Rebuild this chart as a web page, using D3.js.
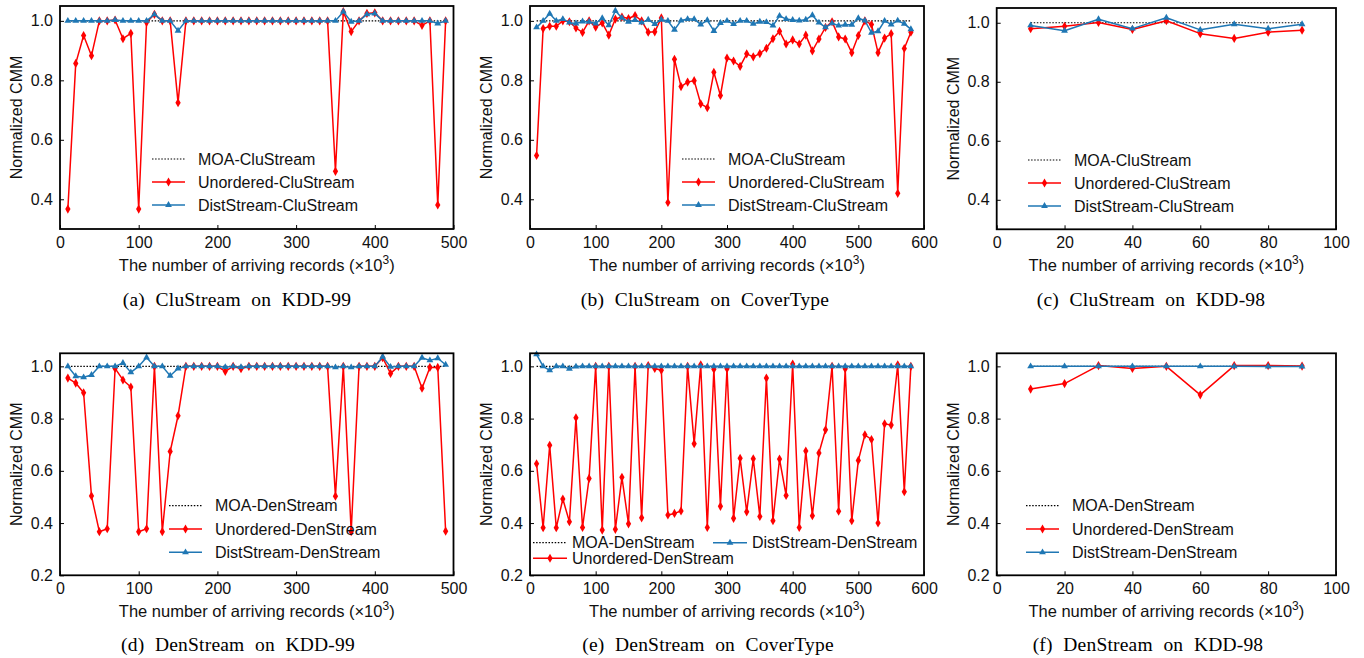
<!DOCTYPE html>
<html lang="en">
<head>
<meta charset="UTF-8">
<title>Normalized CMM</title>
<script src="https://d3js.org/d3.v7.min.js"></script>
<style>
  body { margin: 0; background: #fff; }
  svg { display: block; }
  .sans { font-family: "Liberation Sans", Arial, sans-serif; }
  .cap { font-family: "Liberation Serif", "Times New Roman", serif; }
</style>
</head>
<body>
<div id="chart"></div>
<script>
// arriving records (x10^3)
const xKdd99 = [10,20,30,40,50,60,70,80,90,100,110,120,130,140,150,160,170,180,190,200,
  210,220,230,240,250,260,270,280,290,300,310,320,330,340,350,360,370,380,390,400,
  410,420,430,440,450,460,470,480,490];
const xCover = [10,20,30,40,50,60,70,80,90,100,110,120,130,140,150,160,170,180,190,200,
  210,220,230,240,250,260,270,280,290,300,310,320,330,340,350,360,370,380,390,400,
  410,420,430,440,450,460,470,480,490,500,510,520,530,540,550,560,570,580];
const xKdd98 = [10,20,30,40,50,60,70,80,90];

// tick labels
const xTicks500 = [0,100,200,300,400,500];
const xTicks600 = [0,100,200,300,400,500,600];
const xTicks100 = [0,20,40,60,80,100];
const yTicksTop = [0.4,0.6,0.8,1.0];
const yTicksBottom = [0.2,0.4,0.6,0.8,1.0];

// MOA result is the normalisation baseline
const moaBaseline = 1.0;

// (a) CluStream on KDD-99
const unorderedCluKdd99 = [
  0.367,0.857,0.951,0.883,1.0,1.0,1.003,0.94,0.958,0.367,
  0.995,1.022,1.0,1.0,0.725,1.0,1.0,1.0,1.0,1.0,
  1.0,1.0,1.0,1.0,1.0,1.0,1.0,1.0,1.0,1.0,
  1.0,1.0,1.0,1.0,0.494,1.031,0.964,1.0,1.025,1.027,
  1.0,1.0,1.0,1.0,1.0,0.985,1.0,0.381,1.0];
const distCluKdd99 = [
  1.0,1.0,1.0,1.0,1.0,1.0,1.003,1.0,1.0,1.0,
  1.0,1.022,1.0,1.0,0.967,1.0,1.0,1.0,1.0,1.0,
  1.0,1.0,1.0,1.0,1.0,1.0,1.0,1.0,1.0,1.0,
  1.0,1.0,1.0,1.0,1.0,1.031,0.997,1.0,1.022,1.025,
  1.0,1.0,1.0,1.0,1.0,1.0,1.0,0.991,1.0];

// (b) CluStream on CoverType
const unorderedCluCover = [
  0.547,0.974,0.982,0.982,1.0,0.997,0.976,0.961,1.0,0.979,
  0.993,0.952,1.006,1.013,1.008,1.018,1.0,0.962,0.963,1.01,
  0.389,0.871,0.779,0.794,0.799,0.721,0.708,0.827,0.749,0.875,
  0.865,0.847,0.889,0.879,0.89,0.908,0.94,0.965,0.922,0.936,
  0.922,0.952,0.899,0.939,0.978,0.997,0.946,0.939,0.893,0.951,
  1.0,0.988,0.893,0.942,0.957,0.42,0.907,0.962];
const distCluCover = [
  0.978,1.0,1.024,1.0,1.006,0.994,0.991,0.998,0.997,0.991,
  1.009,0.985,1.034,1.01,0.997,1.003,0.994,1.004,0.989,1.004,
  1.0,0.97,1.001,1.006,1.006,0.988,1.002,0.966,0.993,1.0,
  0.989,1.0,1.0,0.99,0.997,0.996,0.984,1.017,1.006,1.003,
  1.001,1.004,1.019,0.994,0.978,0.992,0.984,0.987,0.987,1.009,
  1.001,0.96,0.965,1.0,0.988,1.001,0.99,0.972];

// (c) CluStream on KDD-98
const unorderedCluKdd98 = [0.98,0.988,1.001,0.977,1.007,0.963,0.947,0.968,0.975];
const distCluKdd98 = [0.991,0.973,1.012,0.98,1.017,0.976,0.995,0.98,0.995];

// (d) DenStream on KDD-99
const unorderedDenKdd99 = [
  0.955,0.936,0.899,0.504,0.367,0.378,0.992,0.948,0.921,0.367,
  0.378,1.0,0.367,0.674,0.811,1.0,1.0,1.0,1.0,1.0,
  0.981,1.0,0.991,1.0,1.0,1.0,1.0,1.0,1.0,1.0,
  1.0,1.0,1.0,1.0,0.503,1.0,0.367,1.0,1.0,1.0,
  1.033,0.973,1.0,1.0,1.0,0.916,0.996,0.996,0.369];
const distDenKdd99 = [
  1.0,0.962,0.958,0.967,1.0,1.0,1.0,1.013,0.977,1.0,
  1.034,1.0,1.0,0.964,0.992,1.0,1.0,1.0,1.0,1.0,
  0.997,1.0,0.997,1.0,1.0,1.0,1.0,1.0,1.0,1.0,
  1.0,1.0,1.0,1.0,0.996,1.0,0.996,1.0,1.0,1.0,
  1.037,0.998,1.0,1.0,1.0,1.033,1.023,1.031,1.006];

// (e) DenStream on CoverType
const unorderedDenCover = [
  0.627,0.382,0.698,0.382,0.492,0.405,0.803,0.383,0.571,1.0,
  0.373,1.0,0.376,0.575,0.397,1.0,0.42,1.003,0.992,0.985,
  0.431,0.437,0.446,1.0,0.704,1.006,0.383,0.989,0.464,0.991,
  0.418,0.648,0.443,0.646,0.425,0.955,0.409,0.645,0.506,1.009,
  0.383,0.676,0.428,0.668,0.757,1.0,0.445,0.991,0.409,0.64,
  0.738,0.72,0.4,0.78,0.775,1.006,0.52,1.0];
const distDenCover = [
  1.046,1.0,0.985,1.0,1.0,0.991,0.999,1.0,1.0,1.0,
  1.0,1.0,1.0,1.0,1.0,1.0,1.0,1.0,1.0,1.0,
  1.0,1.0,1.0,1.0,1.0,1.0,1.0,1.0,1.0,1.0,
  1.0,1.0,1.0,1.0,1.0,1.0,1.0,1.0,1.0,1.0,
  1.0,1.0,1.0,1.0,1.0,1.0,1.0,1.0,1.0,1.0,
  1.0,1.0,1.0,1.0,1.0,1.0,1.0,1.0];

// (f) DenStream on KDD-98
const unorderedDenKdd98 = [0.913,0.934,1.003,0.992,1.0,0.891,1.003,1.003,1.001];
const distDenKdd98 = [1.0,1.0,1.0,1.0,1.0,1.0,1.0,0.999,0.999];

const RED = "#ff0000", BLUE = "#1f77b4";
const FONT = 16;

// panel layout
const panels = [
  {caption: "(a) CluStream on KDD-99", algo: "CluStream", xs: xKdd99, unord: unorderedCluKdd99, dist: distCluKdd99,
   xDomain: [0, 500], xTicks: xTicks500, yDomain: [0.3, 1.05], yTicks: yTicksTop,
   left: 60, right: 453.5, top: 6, bottom: 229, capX: 237, capY: 305.5,
   legend: {x: 152, y: 159, dy: 23}},
  {caption: "(b) CluStream on CoverType", algo: "CluStream", xs: xCover, unord: unorderedCluCover, dist: distCluCover,
   xDomain: [0, 600], xTicks: xTicks600, yDomain: [0.3, 1.05], yTicks: yTicksTop,
   left: 530, right: 924, top: 6, bottom: 229, capX: 705, capY: 305.5,
   legend: {x: 682, y: 159, dy: 23}},
  {caption: "(c) CluStream on KDD-98", algo: "CluStream", xs: xKdd98, unord: unorderedCluKdd98, dist: distCluKdd98,
   xDomain: [0, 100], xTicks: xTicks100, yDomain: [0.3, 1.05], yTicks: yTicksTop,
   left: 996.7, right: 1336, top: 8, bottom: 229.3, capX: 1151, capY: 305.5,
   legend: {x: 1028, y: 160, dy: 23}},
  {caption: "(d) DenStream on KDD-99", algo: "DenStream", xs: xKdd99, unord: unorderedDenKdd99, dist: distDenKdd99,
   xDomain: [0, 500], xTicks: xTicks500, yDomain: [0.2, 1.05], yTicks: yTicksBottom,
   left: 60, right: 453.5, top: 353.3, bottom: 575.3, capX: 238, capY: 651,
   legend: {x: 169, y: 505.7, dy: 23.3}},
  {caption: "(e) DenStream on CoverType", algo: "DenStream", xs: xCover, unord: unorderedDenCover, dist: distDenCover,
   xDomain: [0, 600], xTicks: xTicks600, yDomain: [0.2, 1.05], yTicks: yTicksBottom,
   left: 530, right: 924, top: 353.3, bottom: 575.3, capX: 708, capY: 651,
   legend: {grid: [[533, 542.7], [533, 558.3], [713, 542.7]], gap: 5}},
  {caption: "(f) DenStream on KDD-98", algo: "DenStream", xs: xKdd98, unord: unorderedDenKdd98, dist: distDenKdd98,
   xDomain: [0, 100], xTicks: xTicks100, yDomain: [0.2, 1.05], yTicks: yTicksBottom,
   left: 996.7, right: 1336, top: 353.3, bottom: 575.3, capX: 1148, capY: 651,
   legend: {x: 1026, y: 505.7, dy: 23.3}}
];

const svg = d3.select("#chart").append("svg")
  .attr("width", 1364).attr("height", 658)
  .style("background", "#fff");

const diamond = d3.symbol().type(d3.symbolDiamond).size(24);
const triangle = d3.symbol().type(d3.symbolTriangle).size(20);

function drawSeries(g, x, y, xs, vals, color, sym) {
  const pts = xs.map((d, i) => [d, vals[i]]);
  g.append("path")
    .attr("d", d3.line().x(d => x(d[0])).y(d => y(d[1]))(pts))
    .attr("fill", "none").attr("stroke", color).attr("stroke-width", 1.5)
    .attr("stroke-linejoin", "round");
  g.selectAll(null).data(pts).enter().append("path")
    .attr("d", sym)
    .attr("transform", d => `translate(${x(d[0])},${y(d[1])})`)
    .attr("fill", color);
}

function legendItem(g, kind, x0, y0, label, lineLen, gap) {
  const it = g.append("g");
  const ln = it.append("line").attr("x1", x0).attr("x2", x0 + lineLen).attr("y1", y0).attr("y2", y0);
  if (kind === 0) {
    ln.attr("stroke", "#000").attr("stroke-width", 1.2).attr("stroke-dasharray", "1.5,1.6");
  } else {
    const c = kind === 1 ? RED : BLUE;
    ln.attr("stroke", c).attr("stroke-width", 1.5);
    it.append("path").attr("d", kind === 1 ? diamond : triangle)
      .attr("transform", `translate(${x0 + lineLen / 2},${y0})`).attr("fill", c);
  }
  it.append("text").attr("class", "sans")
    .attr("x", x0 + lineLen + gap).attr("y", y0).attr("dy", "0.36em")
    .attr("font-size", FONT).attr("fill", "#111").text(label);
}

panels.forEach(p => {
  const g = svg.append("g");
  const x = d3.scaleLinear().domain(p.xDomain).range([p.left, p.right]);
  const y = d3.scaleLinear().domain(p.yDomain).range([p.bottom, p.top]);

  // MOA baseline (dotted)
  g.append("line")
    .attr("x1", x(p.xs[0])).attr("x2", x(p.xs[p.xs.length - 1]))
    .attr("y1", y(moaBaseline)).attr("y2", y(moaBaseline))
    .attr("stroke", "#000").attr("stroke-width", 1.2).attr("stroke-dasharray", "1.5,1.6");

  drawSeries(g, x, y, p.xs, p.unord, RED, diamond);
  drawSeries(g, x, y, p.xs, p.dist, BLUE, triangle);

  // axes, ticks pointing inward
  const ax = g.append("g").attr("transform", `translate(0,${p.bottom})`)
    .call(d3.axisBottom(x).tickValues(p.xTicks).tickFormat(d3.format("d")).tickSize(-4).tickPadding(7.5));
  const ay = g.append("g").attr("transform", `translate(${p.left},0)`)
    .call(d3.axisLeft(y).tickValues(p.yTicks).tickFormat(d3.format(".1f")).tickSize(-4).tickPadding(7));
  [ax, ay].forEach(a => {
    a.select(".domain").remove();
    a.attr("font-family", null).attr("font-size", null);
    a.selectAll(".tick line").attr("stroke", "#000").attr("stroke-width", 1);
    a.selectAll(".tick text").attr("class", "sans").attr("font-size", FONT).attr("fill", "#111");
  });

  // frame
  g.append("rect")
    .attr("x", p.left).attr("y", p.top)
    .attr("width", p.right - p.left).attr("height", p.bottom - p.top)
    .attr("fill", "none").attr("stroke", "#000").attr("stroke-width", 1.8);

  // axis titles
  const xl = g.append("text").attr("class", "sans")
    .attr("x", (p.left + p.right) / 2).attr("y", p.bottom + 42)
    .attr("text-anchor", "middle").attr("font-size", 16.5).attr("fill", "#111");
  xl.append("tspan").text("The number of arriving records (\u00d710");
  xl.append("tspan").attr("dy", -7).attr("font-size", 12).text("3");
  xl.append("tspan").attr("dy", 7).text(")");

  g.append("text").attr("class", "sans")
    .attr("transform", `translate(${p.left - 38},${(p.top + p.bottom) / 2}) rotate(-90)`)
    .attr("text-anchor", "middle").attr("font-size", FONT).attr("fill", "#111")
    .text("Normalized CMM");

  // legend
  const names = [`MOA-${p.algo}`, `Unordered-${p.algo}`, `DistStream-${p.algo}`];
  const lg = p.legend;
  if (lg.grid) {
    lg.grid.forEach((pos, k) => legendItem(g, k, pos[0], pos[1], names[k], 34, lg.gap));
  } else {
    names.forEach((n, k) => legendItem(g, k, lg.x, lg.y + k * lg.dy, n, 33, 13));
  }

  // caption
  g.append("text").attr("class", "cap")
    .attr("x", p.capX).attr("y", p.capY)
    .attr("text-anchor", "middle").attr("font-size", 19.5)
    .style("word-spacing", "5.5px").style("letter-spacing", "0.2px").attr("fill", "#000")
    .text(p.caption);
});
</script>
</body>
</html>
